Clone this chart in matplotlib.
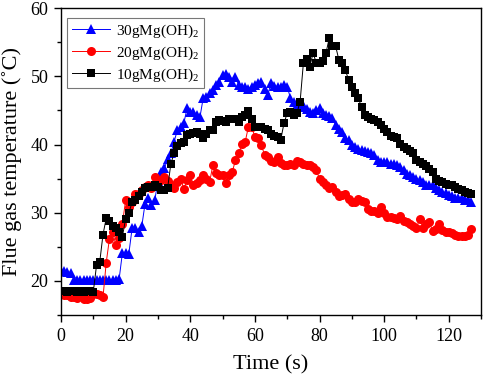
import matplotlib
matplotlib.use("Agg")
import matplotlib.pyplot as plt
import numpy as np
from matplotlib.ticker import MultipleLocator

plt.rcParams['font.family'] = ['Liberation Serif', 'DejaVu Serif']
plt.rcParams['mathtext.fontset'] = 'custom'
plt.rcParams['mathtext.rm'] = 'Liberation Serif'
plt.rcParams['mathtext.it'] = 'Liberation Serif:italic'

time_s = list(range(128))

temp_30g = [21.4, 21.4, 21.3, 21.2, 20.2, 20.2, 20.2, 20.2, 20.2, 20.2, 20.2, 20.2, 20.2, 20.2, 20.2, 20.2,
            20.2, 20.2, 20.3, 24.1, 24.1, 24.0, 27.7, 27.7, 27.1, 28.0, 31.3, 32.2, 31.2, 31.8, 34.6, 36.0,
            36.5, 37.9, 38.7, 40.4, 42.1, 42.6, 43.1, 45.3, 44.8, 44.8, 44.3, 44.0, 46.8, 47.0, 47.5, 48.0,
            48.7, 49.2, 50.2, 50.4, 49.9, 49.2, 49.9, 48.7, 48.5, 48.4, 48.2, 48.5, 48.7, 49.0, 49.2, 48.2,
            47.3, 49.0, 48.6, 48.5, 48.5, 48.7, 48.5, 46.8, 46.3, 45.8, 45.5, 45.8, 45.2, 44.8, 44.6, 45.0,
            45.3, 44.6, 44.3, 44.2, 43.9, 42.8, 42.3, 41.9, 40.9, 40.7, 40.0, 39.6, 39.4, 39.2, 39.0, 38.9,
            38.8, 38.4, 37.7, 37.5, 37.5, 37.4, 37.2, 37.2, 37.0, 36.7, 36.2, 35.7, 35.5, 35.2, 35.0, 34.8,
            34.5, 34.1, 34.0, 34.0, 33.6, 33.3, 33.0, 32.9, 32.6, 32.4, 32.2, 32.1, 32.1, 31.9, 31.8, 31.6]

temp_20g = [18.1, 18.0, 17.9, 17.7, 17.6, 17.5, 18.1, 17.3, 17.3, 17.5, 18.1, 18.1, 18.0, 17.6, 22.7, 26.2,
            27.2, 25.2, 26.3, 28.4, 31.8, 30.8, 31.6, 32.8, 32.8, 33.3, 33.8, 34.0, 33.6, 35.2, 34.5, 34.8,
            35.2, 34.6, 34.0, 33.6, 34.5, 35.0, 33.5, 34.8, 35.6, 34.0, 34.3, 34.8, 35.5, 35.0, 34.5, 37.0,
            35.8, 35.5, 35.5, 34.3, 35.5, 36.0, 37.7, 38.7, 40.1, 40.4, 42.6, 42.6, 41.1, 40.9, 39.9, 38.5,
            38.2, 37.6, 37.5, 38.2, 37.3, 37.0, 37.0, 37.2, 37.0, 37.6, 37.5, 37.2, 37.0, 37.0, 36.7, 36.2,
            35.0, 34.5, 34.0, 33.6, 33.8, 33.0, 32.5, 32.6, 32.8, 32.0, 31.6, 31.5, 32.0, 31.7, 31.5, 30.5,
            30.3, 30.3, 30.0, 30.8, 30.0, 29.3, 29.3, 29.2, 29.1, 29.5, 28.8, 28.6, 28.3, 28.0, 27.8, 29.1,
            27.8, 28.4, 28.6, 27.3, 27.6, 28.3, 27.4, 27.1, 27.1, 27.0, 26.8, 26.6, 26.6, 26.6, 26.7, 27.6]

temp_10g = [18.5, 18.5, 18.4, 18.5, 18.5, 18.4, 18.5, 18.4, 18.5, 18.5, 18.4, 22.3, 22.8, 26.8, 29.2, 28.8,
            28.0, 27.7, 27.2, 26.5, 29.1, 29.9, 31.6, 31.8, 32.5, 33.0, 33.6, 33.8, 33.8, 34.0, 33.8, 33.3,
            33.3, 33.6, 37.2, 38.7, 39.8, 40.2, 40.4, 41.4, 41.6, 41.7, 41.9, 41.6, 40.9, 41.5, 42.1, 42.1,
            43.3, 43.6, 43.5, 43.3, 43.8, 43.8, 43.8, 43.3, 44.0, 44.3, 44.9, 43.8, 42.6, 42.6, 42.6, 42.3,
            42.1, 41.6, 41.3, 41.1, 40.7, 43.1, 44.6, 44.8, 44.3, 44.6, 46.3, 51.9, 52.5, 51.4, 53.4, 52.0,
            51.9, 52.2, 53.4, 55.6, 54.4, 54.4, 52.4, 51.9, 50.9, 49.5, 48.5, 47.5, 46.8, 45.5, 44.3, 44.1,
            43.8, 43.6, 43.3, 42.8, 42.3, 41.8, 41.3, 41.1, 40.9, 40.1, 39.6, 39.4, 39.1, 38.7, 37.7, 37.4,
            37.2, 36.9, 36.4, 35.9, 35.0, 34.7, 34.5, 34.2, 34.0, 34.0, 33.8, 33.5, 33.3, 33.0, 32.9, 32.8]

labels = ['30gMg(OH)$_2$', '20gMg(OH)$_2$', '10gMg(OH)$_2$']
colors = ['#0000ff', '#ff0000', '#000000']
markers = ['^', 'o', 's']

fig = plt.figure(figsize=(4.84, 3.87), dpi=100)
ax = fig.add_axes([0.126, 0.186, 0.868, 0.793])

for y, lab, c, m in zip([temp_30g, temp_20g, temp_10g], labels, colors, markers):
    ax.plot(time_s, y, color=c, lw=0.7, marker=m, markersize=6.5 if m != 's' else 5.5,
            markeredgewidth=0, label=lab)

ax.set_xlim(0, 130)
ax.set_ylim(15, 60)
ax.xaxis.set_major_locator(MultipleLocator(20))
ax.xaxis.set_minor_locator(MultipleLocator(10))
ax.yaxis.set_major_locator(MultipleLocator(10))
ax.yaxis.set_minor_locator(MultipleLocator(5))
ax.tick_params(which='both', direction='out', top=False, right=False, labelsize=13, width=1, pad=4)
ax.tick_params(which='major', length=5)
ax.tick_params(which='minor', length=3)
for s in ax.spines.values():
    s.set_linewidth(1.0)

ax.set_xlabel('Time (s)', fontsize=16, labelpad=8)
ax.set_ylabel('Flue gas temperature (\u02daC)', fontsize=16, labelpad=6)

leg = ax.legend(loc='upper left', bbox_to_anchor=(0.015, 0.968), fontsize=11, frameon=True,
                fancybox=False, edgecolor='#555555', handlelength=2.5, borderpad=0.3,
                labelspacing=0.3, handletextpad=0.4, borderaxespad=0)
leg.get_frame().set_linewidth(0.8)

fig.savefig('out.png', dpi=100)
